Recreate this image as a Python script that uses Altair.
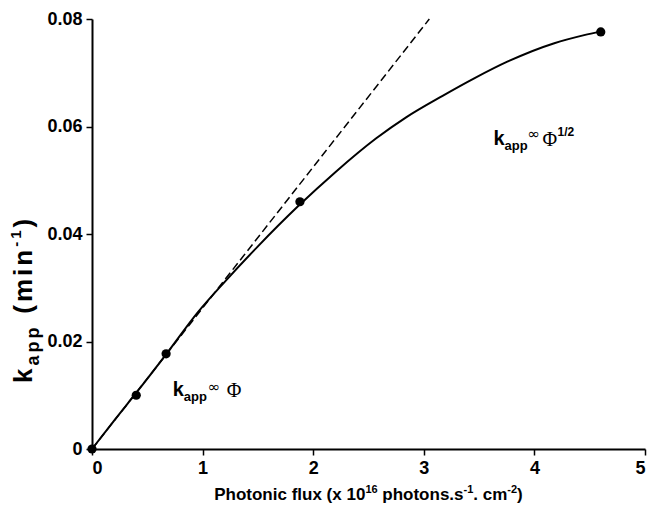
import altair as alt
import pandas as pd

# measured points
pts_x = [0, 0.40, 0.67, 1.88, 4.60]
pts_y = [0, 0.0100, 0.0177, 0.0460, 0.0776]

# solid fitted curve
fit_x = [0, 0.2, 0.41, 0.67, 0.96, 1.2, 1.5, 1.86, 2.2, 2.57, 2.84, 3.17, 3.46, 3.76, 4.18, 4.45, 4.6]
fit_y = [0, 0.0053, 0.0107, 0.0176, 0.0255, 0.0311, 0.0377, 0.0451, 0.0515, 0.0578, 0.0617,
         0.0657, 0.0690, 0.0721, 0.0755, 0.0770, 0.0777]

# dashed linear line
lin_x = [0, 3.05]
lin_y = [0, 0.08]

x_ticks = [0, 1, 2, 3, 4, 5]
y_ticks = [0, 0.02, 0.04, 0.06, 0.08]

# annotation anchors (data coords)
ann1 = (0.73, 0.0099)
ann2 = (3.63, 0.0566)

W, H = 553, 430
FONT = "Liberation Sans"

# Helvetica-Bold advance widths (per 1000 em)
AW = {' ': 278, '(': 333, ')': 333, '.': 278, '-': 333, '/': 278, 'P': 667, 'a': 556, 'c': 556,
      'f': 333, 'h': 611, 'i': 278, 'l': 278, 'm': 889, 'n': 611, 'o': 611, 'p': 611, 's': 556,
      't': 333, 'u': 611, 'x': 556, 'k': 556}
for d in "0123456789":
    AW[d] = 556


def tw(text, size):
    return sum(AW.get(c, 556) for c in text) * size / 1000.0


xs = alt.Scale(domain=[0, 5], nice=False, zero=False)
ys = alt.Scale(domain=[0, 0.08], nice=False, zero=False)

base_x = alt.X("x:Q", scale=xs, axis=alt.Axis(values=x_ticks, title=None, format="d"))
base_y = alt.Y("y:Q", scale=ys, axis=alt.Axis(
    values=y_ticks, title=None,
    labelExpr="datum.value == 0 ? '0' : format(datum.value, '.2f')"))

fit = alt.Chart(pd.DataFrame({"x": fit_x, "y": fit_y})).mark_line(
    color="black", strokeWidth=2, interpolate="monotone", clip=False
).encode(x=base_x, y=base_y)

lin = alt.Chart(pd.DataFrame({"x": lin_x, "y": lin_y})).mark_line(
    color="black", strokeWidth=1.5, strokeDash=[8, 4], clip=False
).encode(x="x:Q", y="y:Q")

pts = alt.Chart(pd.DataFrame({"x": pts_x, "y": pts_y})).mark_circle(
    color="black", size=85, opacity=1, clip=False
).encode(x="x:Q", y="y:Q")

layers = [lin, fit, pts]


def data_piece(text, anchor, size, dx, dy, weight="bold", font=FONT):
    return alt.Chart(pd.DataFrame({"x": [anchor[0]], "y": [anchor[1]], "t": [text]})).mark_text(
        align="left", baseline="alphabetic", dx=dx, dy=dy, fontSize=size,
        fontWeight=weight, font=font, color="black"
    ).encode(x="x:Q", y="y:Q", text="t:N")


def px_piece(text, px, py, size, angle=0, weight="bold"):
    return alt.Chart(pd.DataFrame({"t": [text]})).mark_text(
        align="left", baseline="alphabetic", fontSize=size,
        fontWeight=weight, font=FONT, color="black", angle=angle
    ).encode(x=alt.value(px), y=alt.value(py), text="t:N")


# annotation 1: k_app ∞ Φ
layers += [
    data_piece("k", ann1, 20, 0, 0),
    data_piece("app", ann1, 13, 11, 5),
    data_piece("∞", ann1, 15, 35, -4, weight="normal", font="DejaVu Sans"),
    data_piece("Φ", ann1, 20, 54, 1, weight="normal", font="Liberation Serif"),
]
# annotation 2: k_app ∞ Φ^1/2
layers += [
    data_piece("k", ann2, 20, 0, 0),
    data_piece("app", ann2, 13, 11, 5),
    data_piece("∞", ann2, 15, 34, -6, weight="normal", font="DejaVu Sans"),
    data_piece("Φ", ann2, 20, 49, 1, weight="normal", font="Liberation Serif"),
    data_piece("1/2", ann2, 12, 64, -9),
]

# x-axis title with superscripts
XB = 481
xt = [("Photonic flux (x 10", 17, 0, 0), ("16", 11, -7, 0), ("photons.s", 17, 0, 1),
      ("-1", 11, -7, 0), (". cm", 17, 0, 0), ("-2", 11, -7, 0), (")", 17, 0, 0)]
total = sum(tw(t, s) + (tw(" ", 17) if sp else 0) for t, s, _, sp in xt)
cur = W / 2 - total / 2
for t, s, dy, sp in xt:
    if sp:
        cur += tw(" ", 17)
    layers.append(px_piece(t, round(cur, 1), XB + dy, s))
    cur += tw(t, s)

# y-axis title (rotated) k_app (min^-1), laid out character by character
MS = 26
TRACK = 3
YB_X, YB_Y = -60, 364
yt = [("k", MS, 0, 0), ("app", 18, 7, 0), ("(min", MS, 0, 1), ("-1", 15, -11, 0), (")", MS, 0, 0)]
cur = 0
for t, s, shift, sp in yt:
    if sp:
        cur += tw(" ", MS) * 1.5
    for ch in t:
        layers.append(px_piece(ch, YB_X + shift, round(YB_Y - cur, 1), s, angle=270))
        cur += tw(ch, s) + TRACK

chart = alt.layer(*layers).properties(
    width=W, height=H,
    autosize=alt.AutoSizeParams(type="none"),
    padding={"left": 84, "top": 11, "right": 5, "bottom": 57},
).configure_view(stroke=None).configure_axis(
    grid=False, domainColor="black", domainWidth=2, tickColor="black", tickWidth=1.5,
    tickSize=6, labelFont=FONT, labelFontSize=18, labelFontWeight="bold",
    labelColor="black", labelPadding=4,
)

chart.save("out.html", embed_options={"renderer": "svg", "actions": False})
